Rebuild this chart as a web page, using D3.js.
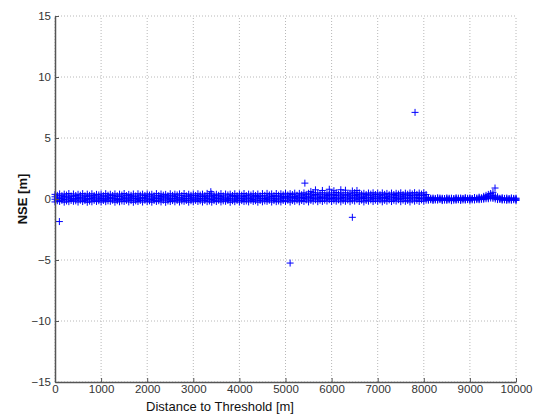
<!DOCTYPE html>
<html><head><meta charset="utf-8">
<script src="https://cdn.jsdelivr.net/npm/d3@7"></script>
<style>
body{margin:0;background:#fff;}
svg{display:block;font-family:"Liberation Sans",Arial,sans-serif;}
</style></head>
<body><svg id="c" width="539" height="417"></svg>
<script>
// ---- data ----
const xTicks = [0,1000,2000,3000,4000,5000,6000,7000,8000,9000,10000];
const yTicks = [-15,-10,-5,0,5,10,15];

const dist = [0,100,200,300,400,500,600,700,800,900,
 1000,1100,1200,1300,1400,1500,1600,1700,1800,1900,
 2000,2100,2200,2300,2400,2500,2600,2700,2800,2900,
 3000,3100,3200,3300,3400,3500,3600,3700,3800,3900,
 4000,4100,4200,4300,4400,4500,4600,4700,4800,4900,
 5000,5100,5200,5300,5400,5500,5600,5700,5800,5900,
 6000,6100,6200,6300,6400,6500,6600,6700,6800,6900,
 7000,7100,7200,7300,7400,7500,7600,7700,7800,7900,
 8000,8100,8200,8300,8400,8500,8600,8700,8800,8900,
 9000,9100,9200,9300,9400,9500,9600,9700,9800,9900,10000];

const nseHi = [0.38,0.42,0.40,0.45,0.41,0.39,0.44,0.40,0.43,0.38,
 0.41,0.44,0.39,0.42,0.40,0.45,0.38,0.41,0.43,0.40,
 0.42,0.39,0.44,0.41,0.38,0.43,0.40,0.42,0.45,0.39,
 0.41,0.43,0.40,0.46,0.42,0.39,0.44,0.41,0.40,0.43,
 0.42,0.45,0.40,0.43,0.41,0.44,0.46,0.42,0.45,0.43,
 0.47,0.44,0.48,0.46,0.50,0.47,0.52,0.49,0.51,0.48,
 0.50,0.53,0.49,0.51,0.48,0.52,0.50,0.47,0.49,0.51,
 0.48,0.50,0.46,0.49,0.47,0.51,0.48,0.50,0.52,0.49,
 0.51,0.12,0.08,0.10,0.06,0.09,0.07,0.10,0.08,0.11,
 0.09,0.12,0.15,0.22,0.38,0.55,0.18,0.10,0.08,0.09,0.07];

const nseMidHi = [0.18,0.15,0.20,0.16,0.19,0.14,0.17,0.21,0.15,0.18,
 0.16,0.19,0.14,0.18,0.20,0.15,0.17,0.19,0.16,0.14,
 0.19,0.17,0.15,0.20,0.18,0.16,0.21,0.14,0.17,0.19,
 0.15,0.18,0.20,0.17,0.22,0.16,0.19,0.15,0.18,0.21,
 0.17,0.20,0.16,0.19,0.21,0.18,0.15,0.20,0.22,0.19,
 0.21,0.24,0.20,0.23,0.26,0.22,0.27,0.25,0.23,0.28,
 0.26,0.29,0.24,0.27,0.25,0.28,0.26,0.23,0.27,0.25,
 0.24,0.27,0.22,0.25,0.28,0.24,0.26,0.29,0.27,0.30,
 0.28,0.04,0.02,0.05,0.01,0.03,0.00,0.04,0.02,0.05,
 0.03,0.06,0.08,0.12,0.20,0.30,0.10,0.05,0.02,0.03,0.01];

const nseMidLo = [-0.02,0.01,-0.04,0.00,-0.03,0.02,-0.01,-0.05,0.01,-0.02,
 0.00,-0.03,0.02,-0.01,-0.04,0.01,-0.02,0.00,-0.05,0.02,
 -0.01,-0.04,0.01,-0.02,0.00,-0.03,0.02,-0.05,-0.01,0.01,
 -0.03,0.00,-0.02,0.02,-0.04,0.01,-0.01,-0.03,0.00,-0.02,
 0.01,-0.02,0.00,-0.04,0.02,-0.01,-0.03,0.01,-0.02,0.00,
 0.02,-0.01,0.03,0.00,0.04,0.01,0.05,0.02,0.03,0.06,
 0.04,0.02,0.05,0.01,0.03,0.06,0.02,0.04,0.01,0.03,
 0.05,0.02,0.04,0.01,0.06,0.03,0.05,0.02,0.07,0.04,
 0.06,-0.04,-0.06,-0.03,-0.07,-0.05,-0.08,-0.04,-0.06,-0.03,
 -0.05,-0.02,0.00,0.05,0.10,0.15,0.02,-0.03,-0.05,-0.04,-0.06];

const nseLo = [-0.24,-0.20,-0.26,-0.22,-0.19,-0.25,-0.21,-0.27,-0.23,-0.20,
 -0.25,-0.22,-0.19,-0.26,-0.23,-0.20,-0.24,-0.27,-0.21,-0.25,
 -0.22,-0.26,-0.20,-0.24,-0.27,-0.21,-0.23,-0.25,-0.19,-0.26,
 -0.23,-0.20,-0.25,-0.22,-0.26,-0.21,-0.24,-0.19,-0.27,-0.22,
 -0.25,-0.21,-0.24,-0.20,-0.26,-0.23,-0.19,-0.25,-0.22,-0.24,
 -0.21,-0.25,-0.19,-0.23,-0.20,-0.24,-0.18,-0.22,-0.20,-0.17,
 -0.21,-0.18,-0.23,-0.19,-0.22,-0.17,-0.20,-0.24,-0.18,-0.21,
 -0.19,-0.23,-0.18,-0.21,-0.17,-0.22,-0.19,-0.24,-0.18,-0.20,
 -0.18,-0.10,-0.12,-0.09,-0.13,-0.11,-0.14,-0.10,-0.12,-0.09,
 -0.11,-0.08,-0.06,-0.02,0.02,0.05,-0.05,-0.09,-0.11,-0.10,-0.12];

// second set of samples, between the ones above
const dist2 = [50,150,250,350,450,550,650,750,850,950,
 1050,1150,1250,1350,1450,1550,1650,1750,1850,1950,
 2050,2150,2250,2350,2450,2550,2650,2750,2850,2950,
 3050,3150,3250,3350,3450,3550,3650,3750,3850,3950,
 4050,4150,4250,4350,4450,4550,4650,4750,4850,4950,
 5050,5150,5250,5350,5450,5550,5650,5750,5850,5950,
 6050,6150,6250,6350,6450,6550,6650,6750,6850,6950,
 7050,7150,7250,7350,7450,7550,7650,7750,7850,7950,
 8050,8150,8250,8350,8450,8550,8650,8750,8850,8950,
 9050,9150,9250,9350,9450,9550,9650,9750,9850,9950];

const nseB1 = [0.30,0.27,0.32,0.25,0.29,0.31,0.26,0.30,0.28,0.33,
 0.27,0.31,0.29,0.26,0.32,0.28,0.30,0.25,0.31,0.29,
 0.32,0.26,0.29,0.31,0.27,0.30,0.33,0.28,0.26,0.30,
 0.29,0.32,0.27,0.31,0.28,0.30,0.26,0.33,0.29,0.27,
 0.31,0.28,0.32,0.29,0.26,0.30,0.33,0.28,0.31,0.34,
 0.33,0.36,0.31,0.35,0.38,0.34,0.37,0.39,0.35,0.38,
 0.36,0.40,0.35,0.38,0.41,0.37,0.39,0.36,0.40,0.37,
 0.35,0.38,0.34,0.37,0.40,0.36,0.39,0.41,0.38,0.40,
 0.37,0.07,0.05,0.08,0.04,0.06,0.03,0.07,0.05,0.06,
 0.04,0.08,0.10,0.30,0.45,0.25,0.06,0.05,0.04,0.05];

const nseB2 = [0.08,0.05,0.10,0.06,0.03,0.09,0.07,0.04,0.10,0.06,
 0.05,0.09,0.07,0.03,0.08,0.06,0.10,0.04,0.07,0.09,
 0.06,0.08,0.04,0.10,0.07,0.05,0.09,0.06,0.03,0.08,
 0.07,0.04,0.09,0.06,0.10,0.05,0.08,0.03,0.07,0.09,
 0.06,0.08,0.05,0.10,0.07,0.04,0.09,0.06,0.08,0.11,
 0.10,0.13,0.09,0.12,0.14,0.11,0.15,0.12,0.14,0.16,
 0.13,0.15,0.12,0.16,0.14,0.17,0.13,0.15,0.12,0.16,
 0.14,0.12,0.16,0.13,0.15,0.17,0.14,0.16,0.13,0.15,
 0.16,0.01,-0.01,0.02,-0.02,0.00,0.01,-0.01,0.02,0.00,
 0.01,0.03,0.05,0.15,0.25,0.12,0.02,0.00,-0.01,0.01];

const nseB3 = [-0.14,-0.11,-0.16,-0.12,-0.15,-0.10,-0.13,-0.17,-0.11,-0.14,
 -0.12,-0.15,-0.10,-0.14,-0.16,-0.11,-0.13,-0.15,-0.12,-0.10,
 -0.15,-0.12,-0.14,-0.10,-0.16,-0.13,-0.11,-0.15,-0.12,-0.14,
 -0.11,-0.14,-0.12,-0.16,-0.13,-0.10,-0.15,-0.12,-0.14,-0.11,
 -0.13,-0.16,-0.11,-0.14,-0.12,-0.15,-0.10,-0.13,-0.16,-0.12,
 -0.10,-0.13,-0.09,-0.12,-0.08,-0.11,-0.07,-0.10,-0.09,-0.06,
 -0.09,-0.07,-0.11,-0.08,-0.10,-0.06,-0.09,-0.12,-0.07,-0.09,
 -0.08,-0.11,-0.07,-0.10,-0.06,-0.09,-0.11,-0.08,-0.10,-0.07,
 -0.09,-0.06,-0.08,-0.05,-0.09,-0.07,-0.10,-0.06,-0.08,-0.05,
 -0.07,-0.05,-0.03,0.02,0.08,0.00,-0.04,-0.07,-0.08,-0.06];

// sparse upper layer between ~5550 m and ~6550 m
const upperDist = [5550,5650,5800,5950,6050,6200,6300,6450,6550];
const upperNse  = [0.62,0.75,0.70,0.80,0.68,0.76,0.72,0.66,0.70];

// isolated outliers
const outDist = [95,3380,5100,5420,6450,7810,9545];
const outNse  = [-1.85,0.60,-5.25,1.30,-1.50,7.10,0.90];

// ---- chart ----
const svg = d3.select("#c");
const m = {left:55, top:16, right:23, bottom:35};
const W = 539, H = 417;
const x = d3.scaleLinear().domain([0,10000]).range([m.left, W-m.right]);
const y = d3.scaleLinear().domain([-15,15]).range([H-m.bottom, m.top]);

// grid
const grid = svg.append("g");
grid.selectAll("line.vx").data(xTicks).join("line")
  .attr("x1",d=>x(d)).attr("x2",d=>x(d)).attr("y1",y(-15)).attr("y2",y(15))
  .attr("stroke","#b8b8b8").attr("stroke-width",1).attr("stroke-dasharray","1,2");
grid.selectAll("line.hy").data(yTicks).join("line")
  .attr("y1",d=>y(d)).attr("y2",d=>y(d)).attr("x1",x(0)).attr("x2",x(10000))
  .attr("stroke","#b8b8b8").attr("stroke-width",1).attr("stroke-dasharray","1,2");

// points
const pts = [];
[nseHi,nseMidHi,nseMidLo,nseLo].forEach(s => s.forEach((v,i)=>pts.push([dist[i],v])));
[nseB1,nseB2,nseB3].forEach(s => s.forEach((v,i)=>pts.push([dist2[i],v])));
upperDist.forEach((d,i)=>pts.push([d,upperNse[i]]));
outDist.forEach((d,i)=>pts.push([d,outNse[i]]));

const r = 3.5;
svg.append("g").selectAll("path").data(pts).join("path")
  .attr("d",d=>{const cx=x(d[0]), cy=y(d[1]);
    return `M${cx-r},${cy}H${cx+r}M${cx},${cy-r}V${cy+r}`;})
  .attr("stroke","#0000ff").attr("stroke-width",1).attr("fill","none");

// axes
const xa = svg.append("g").attr("transform",`translate(0,${y(-15)})`)
  .call(d3.axisBottom(x).tickValues(xTicks).tickFormat(d3.format("d")).tickSizeInner(-4).tickSizeOuter(0).tickPadding(3));
const ya = svg.append("g").attr("transform",`translate(${x(0)},0)`)
  .call(d3.axisLeft(y).tickValues(yTicks).tickFormat(d3.format("d")).tickSizeInner(-4).tickSizeOuter(0).tickPadding(4));
[xa,ya].forEach(a=>{
  a.select(".domain").attr("stroke","#555").attr("stroke-width",1.5);
  a.selectAll(".tick line").attr("stroke","#555");
  a.selectAll("text").attr("fill","#333").style("font-size","11.5px").style("font-family","'Liberation Sans',Arial,sans-serif");
});

svg.append("text").attr("x",220).attr("y",411).attr("text-anchor","middle")
  .style("font-size","13px").attr("fill","#111").text("Distance to Threshold [m]");
svg.append("text").attr("transform","translate(27,199) rotate(-90)").attr("text-anchor","middle")
  .style("font-size","13px").style("font-weight","bold").attr("fill","#111").text("NSE [m]");
</script>
</body></html>
